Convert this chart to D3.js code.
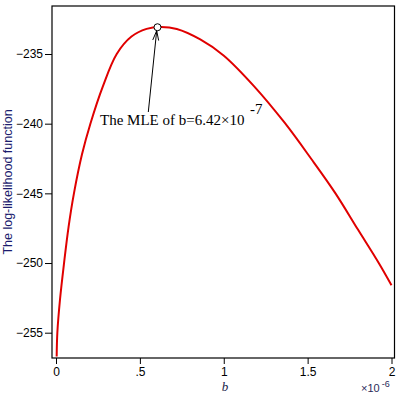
<!DOCTYPE html>
<html><head><meta charset="utf-8">
<script src="https://cdn.jsdelivr.net/npm/d3@7"></script>
<style>body{margin:0;background:#fff}svg{display:block}</style>
</head><body>
<script>
// Data (b in units of 1e-6)
const bValues = [0.004, 0.008, 0.024, 0.048, 0.075, 0.107, 0.155, 0.205, 0.28, 0.362, 0.45, 0.54, 0.62, 0.72, 0.86, 0.999, 1.18, 1.364, 1.52, 1.666, 1.80, 1.924, 2.0];
const logLik = [-256.7, -255.0, -252.6, -250.0, -247.4, -245.0, -242.2, -240.0, -237.3, -235.0, -233.75, -233.2, -233.06, -233.2, -233.95, -235.1, -237.3, -239.95, -242.5, -245.0, -247.6, -250.0, -251.6];
const xTicks = [0, 0.5, 1, 1.5, 2];
const xTickLabels = ["0", ".5", "1", "1.5", "2"];
const yTicks = [-255, -250, -245, -240, -235];
const mleB = 0.605, mleL = -233.08;

const W = 400, H = 400;
const pLeft = 52, pRight = 394.5, pTop = 6, pBottom = 358;

const svg = d3.select("body").append("svg").attr("width", W).attr("height", H);
const x = d3.scaleLinear().domain([0, 2]).range([56, 391.5]);
const y = d3.scaleLinear().domain([-255, -235]).range([332.7, 54]);

svg.append("defs").append("clipPath").attr("id", "clip")
  .append("rect").attr("x", pLeft).attr("y", pTop).attr("width", pRight - pLeft).attr("height", pBottom - pTop);

// axes
const yAxis = d3.axisLeft(y).tickValues(yTicks).tickSize(7).tickPadding(2)
  .tickFormat(d => "\u2212" + Math.abs(d));
const gy = svg.append("g").attr("transform", `translate(${pLeft},0)`).call(yAxis);
gy.select(".domain").remove();
gy.selectAll("text").attr("font-family", "Liberation Sans, Arial, sans-serif").attr("font-size", 12).attr("fill", "#000");
gy.selectAll("line").attr("stroke", "#000");

const xAxis = d3.axisBottom(x).tickValues(xTicks).tickSize(6).tickPadding(3)
  .tickFormat((d, i) => xTickLabels[i]);
const gx = svg.append("g").attr("transform", `translate(0,${pBottom})`).call(xAxis);
gx.select(".domain").remove();
gx.selectAll("text").attr("font-family", "Liberation Sans, Arial, sans-serif").attr("font-size", 12).attr("fill", "#000");
gx.selectAll("line").attr("stroke", "#000");

// frame
svg.append("rect").attr("x", pLeft).attr("y", pTop).attr("width", pRight - pLeft).attr("height", pBottom - pTop)
  .attr("fill", "none").attr("stroke", "#000").attr("stroke-width", 1.2);

// curve
const pts = bValues.map((b, i) => [b, logLik[i]]);
const line = d3.line().x(d => x(d[0])).y(d => y(d[1])).curve(d3.curveCatmullRom.alpha(0.5));
svg.append("path").attr("clip-path", "url(#clip)").datum(pts).attr("d", line)
  .attr("fill", "none").attr("stroke", "#e00000").attr("stroke-width", 2);

// MLE marker
const cx = x(mleB), cy = y(mleL);
svg.append("circle").attr("cx", cx).attr("cy", cy).attr("r", 3.5)
  .attr("fill", "#fff").attr("stroke", "#000").attr("stroke-width", 1);

// arrow
const ax0 = 148.3, ay0 = 112;
const tipX = cx - 0.8, tipY = cy + 3.5;
svg.append("line").attr("x1", ax0).attr("y1", ay0).attr("x2", tipX).attr("y2", tipY)
  .attr("stroke", "#000").attr("stroke-width", 1);
const ang = Math.atan2(tipY - ay0, tipX - ax0);
const hl = 10, ha = 0.3;
[ang + Math.PI - ha, ang + Math.PI + ha].forEach(a => {
  svg.append("line").attr("x1", tipX).attr("y1", tipY)
    .attr("x2", tipX + hl * Math.cos(a)).attr("y2", tipY + hl * Math.sin(a))
    .attr("stroke", "#000").attr("stroke-width", 1);
});

// annotation
svg.append("text").attr("x", 100).attr("y", 125)
  .attr("font-family", "Liberation Serif, Times New Roman, serif").attr("font-size", 15).attr("fill", "#000")
  .text("The MLE of b=6.42\u00d710");
svg.append("text").attr("x", 250).attr("y", 114)
  .attr("font-family", "Liberation Serif, Times New Roman, serif").attr("font-size", 15).attr("fill", "#000").text("-7");

// axis titles
svg.append("text").attr("x", 225).attr("y", 391).attr("text-anchor", "middle")
  .attr("font-family", "Liberation Serif, Times New Roman, serif").attr("font-style", "italic")
  .attr("font-size", 13).attr("fill", "#1a1a4a").text("b");
const xs = svg.append("text").attr("x", 361).attr("y", 392)
  .attr("font-family", "Liberation Sans, Arial, sans-serif").attr("font-size", 11).attr("fill", "#2a2a5a");
xs.append("tspan").text("\u00d710");
xs.append("tspan").attr("dx", 2).attr("dy", -5).attr("font-size", 9).text("-6");

svg.append("text").attr("transform", "translate(12,182) rotate(-90)").attr("text-anchor", "middle")
  .attr("font-family", "Liberation Sans, Arial, sans-serif").attr("font-size", 12.5).attr("fill", "#1c1c6e")
  .text("The log-likelihood function");
</script>
</body></html>
